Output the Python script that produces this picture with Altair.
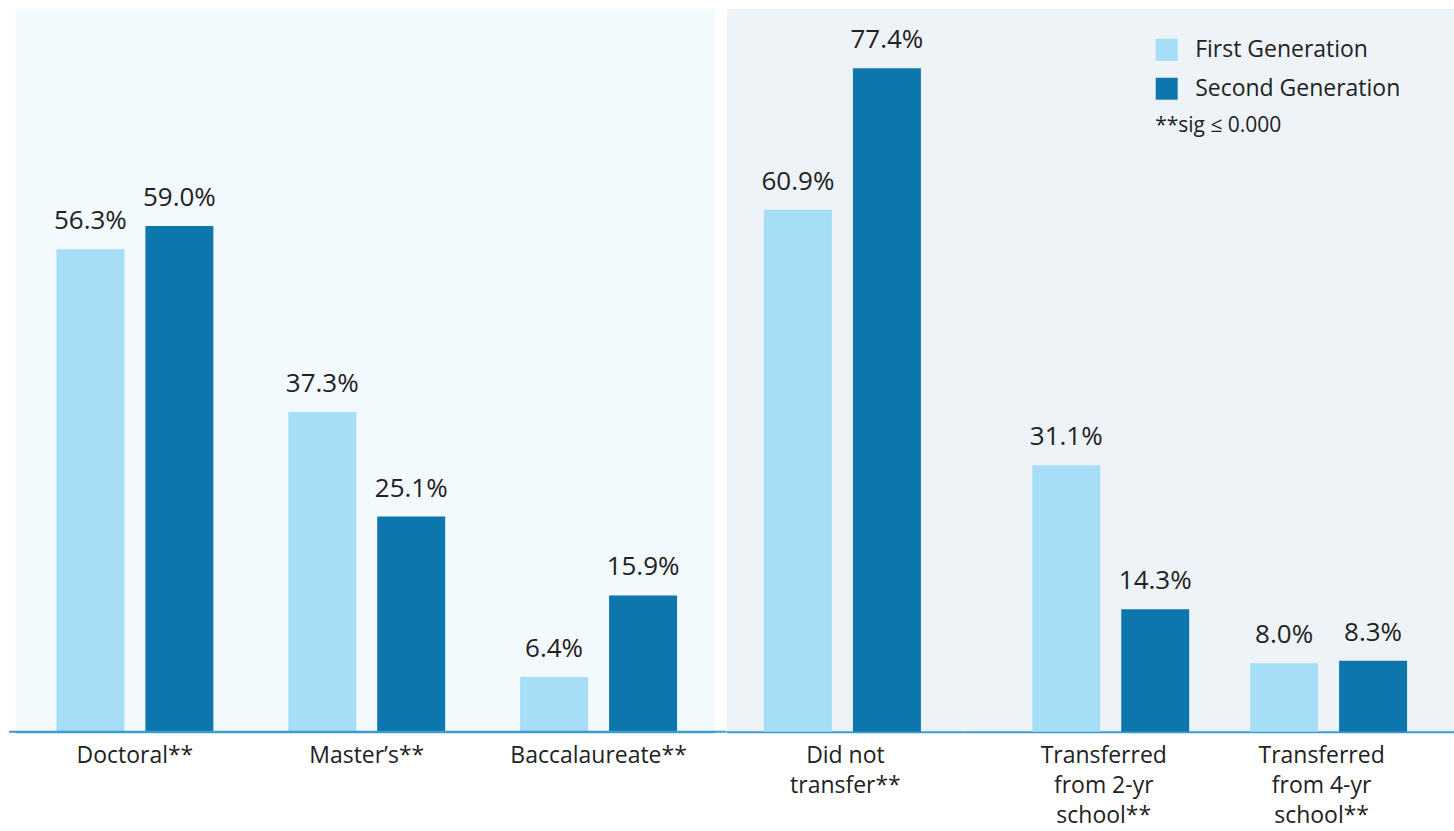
import altair as alt
import pandas as pd

series = ["First Generation", "Second Generation"]
colors = ["#A6DDF7", "#0C76AD"]

categories_left = ["Doctoral**", "Master’s**", "Baccalaureate**"]
first_left = [56.3, 37.3, 6.4]
second_left = [59.0, 25.1, 15.9]

categories_right_a = ["Did not|transfer**"]
first_right_a = [60.9]
second_right_a = [77.4]

categories_right_b = ["Transferred|from 2-yr|school**", "Transferred|from 4-yr|school**"]
first_right_b = [31.1, 8.0]
second_right_b = [14.3, 8.3]

FONT = "Open Sans"
TEXT = "#222222"
AXIS_COLOR = "#3B9CCF"
YMAX = 84.4
H = 724


def frame(cats, first, second):
    rows = []
    for c, a, b in zip(cats, first, second):
        rows.append({"category": c, "series": series[0], "value": a})
        rows.append({"category": c, "series": series[1], "value": b})
    return pd.DataFrame(rows)


def panel(df, cats, width, xscale, pin, pout, bg, legend, rule_from=None, rule_to=None):
    base = alt.Chart(df).encode(
        x=alt.X(
            "category:N",
            sort=cats,
            scale=xscale,
            axis=alt.Axis(
                title=None,
                labelExpr="split(datum.label, '|')",
                labelAngle=0,
                ticks=False,
                grid=False,
                domainColor=AXIS_COLOR,
                domainWidth=2,
                labelFontSize=23,
                labelFont=FONT,
                labelColor=TEXT,
                labelLineHeight=30,
                labelPadding=13,
                labelLimit=300,
            ),
        ),
        xOffset=alt.XOffset(
            "series:N", sort=series,
            scale=alt.Scale(paddingInner=pin, paddingOuter=pout),
        ),
        y=alt.Y("value:Q", scale=alt.Scale(domain=[0, YMAX], nice=False, zero=True), axis=None),
    )
    color = alt.Color(
        "series:N", sort=series,
        scale=alt.Scale(domain=series, range=colors),
        legend=legend,
    )
    bars = base.mark_bar().encode(color=color)
    text = base.transform_calculate(
        label="format(datum.value, '.1f') + '%'"
    ).mark_text(
        baseline="alphabetic", dy=-20, fontSize=26, font=FONT, color=TEXT
    ).encode(text="label:N")
    layers = [bars, text]
    if rule_from is not None:
        rule = alt.Chart(pd.DataFrame({"k": [0]})).mark_rule(
            color=AXIS_COLOR, strokeWidth=2
        ).encode(x=alt.value(rule_from), x2=alt.value(rule_to), y=alt.value(H))
        layers.append(rule)
    return alt.layer(*layers).properties(
        width=width, height=H,
        view=alt.ViewBackground(fill=bg, strokeOpacity=0),
    )


legend = alt.Legend(
    title="**sig ≤ 0.000",
    titleOrient="bottom",
    orient="none",
    legendX=191,
    legendY=30,
    symbolType="square",
    symbolSize=484,
    symbolStrokeWidth=0,
    labelFontSize=23,
    labelFont=FONT,
    labelColor=TEXT,
    labelOffset=17,
    labelLimit=300,
    rowPadding=15,
    titleFontSize=21,
    titleFontWeight="normal",
    titleFont=FONT,
    titleColor=TEXT,
    titleAnchor="start",
    titlePadding=14,
)

LEFT_BG = "#F3FAFE"
RIGHT_BG = "#EEF3F8"

left = panel(
    frame(categories_left, first_left, second_left), categories_left, 700,
    alt.Scale(paddingInner=0, paddingOuter=0.0086, align=1),
    0.236, 0.421, LEFT_BG, None, rule_from=-6, rule_to=712,
)
right_a = panel(
    frame(categories_right_a, first_right_a, second_right_a), categories_right_a, 238,
    alt.Scale(paddingInner=0, paddingOuter=0),
    0.209, 0.477, RIGHT_BG, None,
)
right_b = panel(
    frame(categories_right_b, first_right_b, second_right_b), categories_right_b, 490,
    alt.Scale(paddingInner=0, paddingOuter=0.1239, align=0.565),
    0.2, 0.382, RIGHT_BG, legend,
)

right = alt.hconcat(right_a, right_b, spacing=0, bounds="flush").resolve_scale(
    color="independent"
)

chart = alt.hconcat(left, right, spacing=12, bounds="flush").resolve_scale(
    color="independent"
).properties(
    padding={"left": 8, "top": 8, "right": 0, "bottom": 0},
    background="white",
)

chart.save("out.html", embed_options={"renderer": "svg", "actions": False})
